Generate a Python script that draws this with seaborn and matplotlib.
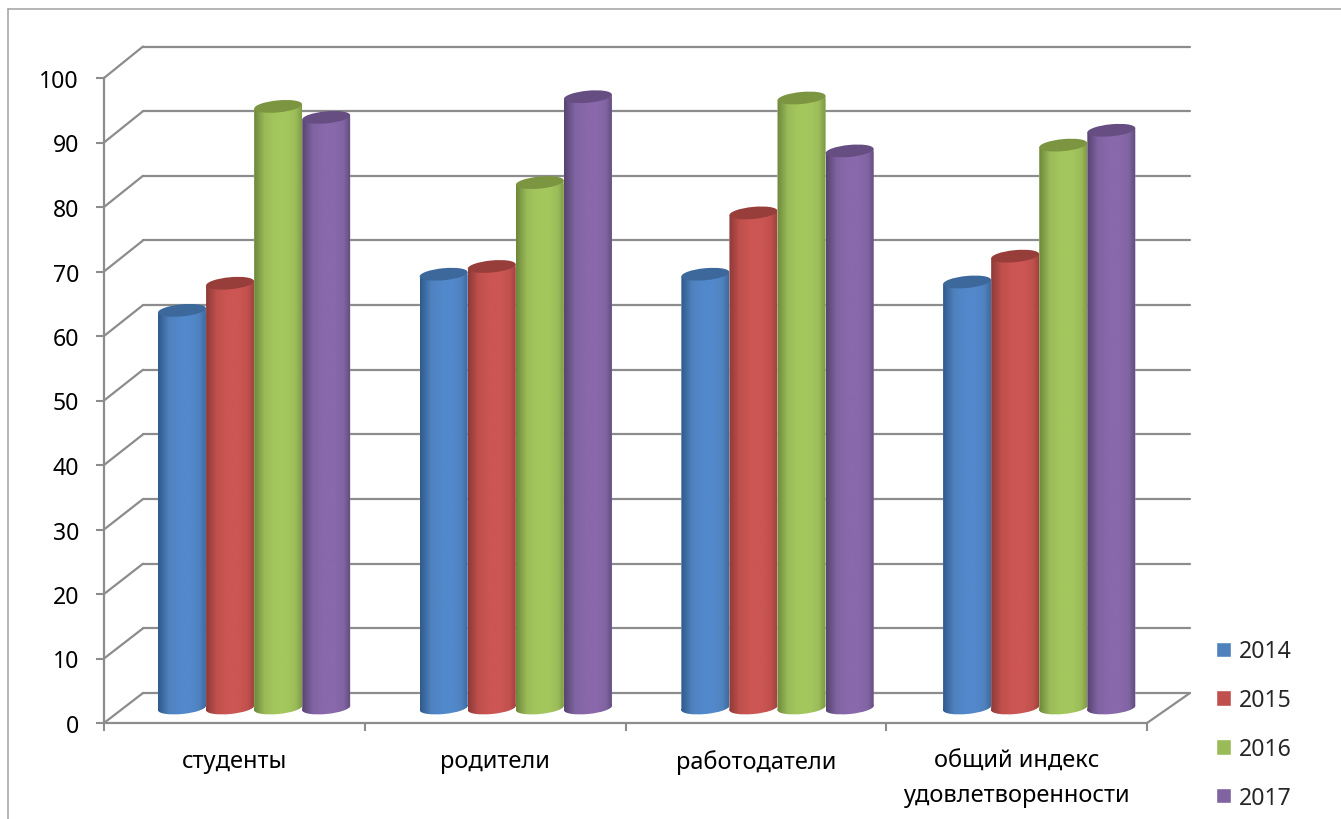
import numpy as np
import pandas as pd
import seaborn as sns
import matplotlib
matplotlib.use("Agg")
import matplotlib.pyplot as plt
from matplotlib.colors import LinearSegmentedColormap
from matplotlib.lines import Line2D
from matplotlib.patches import ConnectionPatch, Ellipse
from matplotlib.path import Path
from matplotlib.transforms import Affine2D, IdentityTransform

categories = ["студенты", "родители", "работодатели", "общий индекс\nудовлетворенности"]
years = ["2014", "2015", "2016", "2017"]
v2014 = [61.6, 67.2, 67.2, 66.0]
v2015 = [65.8, 68.4, 76.7, 70.0]
v2016 = [93.2, 81.4, 94.5, 87.2]
v2017 = [91.5, 94.7, 86.3, 89.5]
yticks = list(range(0, 101, 10))

base = ["#4F81BD", "#C0504D", "#9BBB59", "#8064A2"]
edge_l = ["#2f5a8c", "#8e3a38", "#6c883a", "#574470"]
edge_r = ["#38669b", "#9c403d", "#7a9845", "#5f4b7c"]
mid = ["#5289cc", "#cc5653", "#a4c75d", "#8968ab"]
cap = ["#3c689b", "#973d3a", "#7b9541", "#664e82"]
GRID = "#8c8c8c"

sns.set_theme(style="white")
plt.rcParams["font.family"] = ["Noto Sans", "DejaVu Sans"]

W, H = 1341, 820
fig = plt.figure(figsize=(W / 100, H / 100), dpi=100, facecolor="white")


def rect(x0, x1, y_bottom, y_top):
    return [x0 / W, 1 - y_bottom / H, (x1 - x0) / W, (y_bottom - y_top) / H]


ax_wall = fig.add_axes(rect(143, 1190, 694, 47.5), zorder=1)
ax_front = fig.add_axes(rect(104, 1147, 724, 79), zorder=2)
ax_bars = fig.add_axes(rect(123.2, 1170, 709, 63.5), zorder=3)

# back wall
ax_wall.set_xlim(-0.5, 3.5)
ax_wall.set_ylim(0, 100)
ax_wall.set_yticks(yticks)
ax_wall.set_xticks([])
ax_wall.set_yticklabels([])
ax_wall.grid(True, axis="y", color=GRID, lw=1.6)
for gl in ax_wall.get_ygridlines():
    gl.set_clip_on(False)
ax_wall.tick_params(left=False)
ax_wall.patch.set_alpha(0)
for s in ax_wall.spines.values():
    s.set_visible(False)

# front axes
ax_front.patch.set_alpha(0)
ax_front.set_xlim(-0.5, 3.5)
ax_front.set_ylim(0, 100)
ax_front.set_yticks(yticks)
ax_front.set_xticks([-0.5, 0.5, 1.5, 2.5, 3.5])
ax_front.set_xticklabels([])
ax_front.set_xticks(range(len(categories)), labels=categories, minor=True)
ax_front.tick_params(axis="x", which="major", length=6, width=1.5, color=GRID, bottom=True)
ax_front.tick_params(axis="x", which="minor", length=0, pad=18.5, labelsize=17, labelcolor="black")
ax_front.tick_params(axis="y", length=6, width=1.5, color=GRID, left=True, pad=12,
                     labelsize=16.6, labelcolor="black")
for lab in ax_front.get_xticklabels(minor=True):
    lab.set_linespacing(1.55)
sns.despine(ax=ax_front)
for s in ("left", "bottom"):
    ax_front.spines[s].set_color(GRID)
    ax_front.spines[s].set_linewidth(1.6)

# depth lines joining the front axes to the back wall
for v in yticks:
    fig.add_artist(ConnectionPatch((-0.5, v), (-0.5, v), coordsA=ax_front.transData,
                                   coordsB=ax_wall.transData, color=GRID, lw=1.6, zorder=1.5))
fig.add_artist(ConnectionPatch((3.5, 0), (3.5, 0), coordsA=ax_front.transData,
                               coordsB=ax_wall.transData, color=GRID, lw=1.6, zorder=1.5))

# columns
df = pd.DataFrame({
    "category": categories * 4,
    "year": [y for y in years for _ in categories],
    "value": v2014 + v2015 + v2016 + v2017,
})
sns.barplot(data=df, x="category", y="value", hue="year", hue_order=years, order=categories,
            palette=base, width=0.735, gap=0, saturation=1, ax=ax_bars, errorbar=None)
ax_bars.set_xlim(-0.5, 3.5)
ax_bars.set_ylim(0, 100)
sns.move_legend(ax_bars, "center left", bbox_to_anchor=(1216 / W, 1 - 725.5 / H),
                bbox_transform=fig.transFigure, frameon=False, title=None, fontsize=16.6,
                labelspacing=1.07, handlelength=0.66, handleheight=0.66, handletextpad=0.33,
                borderpad=0, borderaxespad=0)
ax_bars.patch.set_alpha(0)
ax_bars.set_xlabel("")
ax_bars.set_ylabel("")
ax_bars.set_xticks([])
ax_bars.set_yticks([])
for s in ax_bars.spines.values():
    s.set_visible(False)

TILT = 5.5
B = 6.0
fig.canvas.draw()
grad = np.linspace(0, 1, 128).reshape(1, -1)
for k, container in enumerate(ax_bars.containers):
    cmap = LinearSegmentedColormap.from_list(
        f"c{k}",
        [(0, edge_l[k]), (0.22, base[k]), (0.45, mid[k]), (0.68, mid[k]), (0.86, base[k]), (1, edge_r[k])],
    )
    for bar in container:
        x, w, h = bar.get_x(), bar.get_width(), bar.get_height()
        (xl, yb), (xr, yt) = ax_bars.transData.transform([(x, 0), (x + w, h)])
        a = (xr - xl) / 2
        cx = (xl + xr) / 2
        dx = a * np.cos(np.radians(TILT))
        dy = a * np.sin(np.radians(TILT))
        poly = Path([(cx - dx, yb - dy), (cx + dx, yb + dy), (cx + dx, yt + dy),
                     (cx - dx, yt - dy), (cx - dx, yb - dy)], closed=True)
        foot = Path.unit_circle().transformed(
            Affine2D().scale(a, B).rotate_deg(TILT).translate(cx, yb))
        body = Path.make_compound_path(poly, foot)
        bar.set_clip_path(body, IdentityTransform())
        bar.set_zorder(5 + k)
        im = ax_bars.imshow(grad, cmap=cmap, aspect="auto", extent=(x, x + w, -3, h + 2),
                            zorder=5.2 + k, interpolation="bilinear")
        im.set_clip_box(fig.bbox)
        im.set_clip_path(body, IdentityTransform())
        top = Ellipse((0, 0), 2, 2, facecolor=cap[k], edgecolor="none", zorder=5.4 + k,
                      transform=Affine2D().scale(a, B).rotate_deg(TILT).translate(cx, yt))
        top.set_clip_on(False)
        ax_bars.add_patch(top)
ax_bars.set_xlim(-0.5, 3.5)
ax_bars.set_ylim(0, 100)

# chart-area frame, open at the right and bottom
fig.add_artist(Line2D([8 / W, 8 / W], [0, 1 - 10 / H], color="#a0a0a0", lw=1.1))
fig.add_artist(Line2D([8 / W, 1], [1 - 10 / H, 1 - 10 / H], color="#a0a0a0", lw=1.1))

fig.savefig("out.png", dpi=100, facecolor="white")
